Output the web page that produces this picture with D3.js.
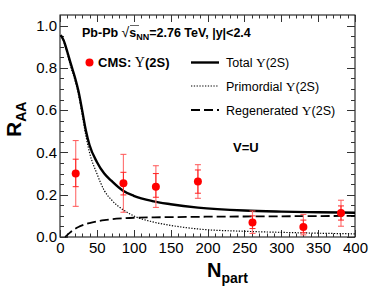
<!DOCTYPE html>
<html><head><meta charset="utf-8">
<script src="https://cdn.jsdelivr.net/npm/d3@7"></script>
<style>body{margin:0;background:#fff}svg{display:block}text{font-family:"Liberation Sans",Arial,sans-serif}</style>
</head><body><svg id="c" width="374" height="296"></svg>
<script>
// Data
const npartCurve = [1, 5, 10, 15, 20, 25, 30, 35, 40, 50, 60, 70, 85, 100, 125, 150, 187, 250, 300, 350, 400];
const totalR     = [0.955, 0.93, 0.875, 0.815, 0.758, 0.69, 0.60, 0.505, 0.435, 0.355, 0.30, 0.265, 0.22, 0.195, 0.17, 0.155, 0.139, 0.125, 0.12, 0.117, 0.115];
const primR      = [0.955, 0.925, 0.865, 0.80, 0.745, 0.675, 0.58, 0.48, 0.40, 0.30, 0.22, 0.175, 0.13, 0.10, 0.072, 0.055, 0.038, 0.027, 0.022, 0.018, 0.015];
const npartRegen = [7, 10, 15, 20, 25, 30, 40, 50, 60, 70, 85, 100, 125, 150, 200, 250, 300, 350, 400];
const regenR     = [0, 0.01, 0.025, 0.037, 0.047, 0.055, 0.066, 0.074, 0.08, 0.084, 0.088, 0.091, 0.093, 0.094, 0.096, 0.097, 0.098, 0.099, 0.100];

const cmsNpart  = [21.3, 86, 130, 187, 261, 330, 381];
const cmsRaa    = [0.30, 0.254, 0.238, 0.262, 0.069, 0.047, 0.114];
const cmsStatLo = [0.238, 0.199, 0.188, 0.207, 0.040, 0.020, 0.080];
const cmsStatHi = [0.368, 0.306, 0.300, 0.317, 0.100, 0.080, 0.147];
const cmsSysLo  = [0.145, 0.117, 0.140, 0.183, 0.017, 0.010, 0.051];
const cmsSysHi  = [0.456, 0.391, 0.337, 0.342, 0.123, 0.107, 0.174];

const xTicks = [0, 50, 100, 150, 200, 250, 300, 350, 400];
const yTicks = [0.0, 0.2, 0.4, 0.6, 0.8, 1.0];

const svg = d3.select("#c");
const L = 60, R = 355, T = 15, B = 237;
const x = d3.scaleLinear().domain([0, 400]).range([L, R]);
const y = d3.scaleLinear().domain([0, 1.05]).range([B, T]);

// frame
svg.append("rect").attr("x", L).attr("y", T).attr("width", R - L).attr("height", B - T)
  .attr("fill", "none").attr("stroke", "#000").attr("stroke-width", 1);

// ticks (inward) on all four sides
const tg = svg.append("g").attr("stroke", "#333").attr("stroke-width", 1);
d3.range(0, 401, 10).forEach(v => {
  const len = v % 50 === 0 ? 7 : 3.5;
  const px = Math.round(x(v)) + 0.5;
  tg.append("line").attr("x1", px).attr("x2", px).attr("y1", B).attr("y2", B - len);
  tg.append("line").attr("x1", px).attr("x2", px).attr("y1", T).attr("y2", T + len);
});
d3.range(0, 21).forEach(i => {
  const v = i * 0.05;
  const len = i % 4 === 0 ? 8 : 4;
  const py = Math.round(y(v)) + 0.5;
  tg.append("line").attr("x1", L).attr("x2", L + len).attr("y1", py).attr("y2", py);
  tg.append("line").attr("x1", R).attr("x2", R - len).attr("y1", py).attr("y2", py);
});

// axes labels via d3 axes (ticks hidden)
const xAx = svg.append("g").attr("transform", `translate(0,${B})`)
  .call(d3.axisBottom(x).tickValues(xTicks).tickSize(0).tickPadding(5).tickFormat(d3.format("d")));
xAx.select(".domain").remove();
xAx.selectAll("text").attr("font-size", 15).attr("fill", "#000").attr("font-family", "Liberation Sans, Arial");
const yAx = svg.append("g").attr("transform", `translate(${L},0)`)
  .call(d3.axisLeft(y).tickValues(yTicks).tickSize(0).tickPadding(3).tickFormat(d3.format(".1f")));
yAx.select(".domain").remove();
yAx.selectAll("text").attr("font-size", 15).attr("fill", "#000").attr("font-family", "Liberation Sans, Arial");

// curves
const line = d3.line().curve(d3.curveMonotoneX);
const totPts = npartCurve.map((n, i) => [x(n), y(totalR[i])]);
const primPts = npartCurve.map((n, i) => [x(n), y(primR[i])]);
const regPts = npartRegen.map((n, i) => [x(n), y(regenR[i])]);
svg.append("path").attr("d", line(primPts)).attr("fill", "none").attr("stroke", "#000")
  .attr("stroke-width", 1.2).attr("stroke-dasharray", "1.3,1.5");
svg.append("path").attr("d", line(regPts)).attr("fill", "none").attr("stroke", "#000")
  .attr("stroke-width", 1.8).attr("stroke-dasharray", "9,4");
svg.append("path").attr("d", line(totPts)).attr("fill", "none").attr("stroke", "#000")
  .attr("stroke-width", 2.4);

// CMS data
const eg = svg.append("g");
cmsNpart.forEach((n, i) => {
  const px = x(n);
  const cw = 3;
  const clip = v => Math.max(v, 0);
  eg.append("line").attr("x1", px).attr("x2", px).attr("y1", y(cmsSysHi[i])).attr("y2", y(clip(cmsSysLo[i])))
    .attr("stroke", "#f77").attr("stroke-width", 1.2);
  [cmsSysHi[i], cmsSysLo[i]].forEach(v => eg.append("line").attr("x1", px - cw).attr("x2", px + cw)
    .attr("y1", y(v)).attr("y2", y(v)).attr("stroke", "#f55").attr("stroke-width", 1));
  eg.append("line").attr("x1", px).attr("x2", px).attr("y1", y(cmsStatHi[i])).attr("y2", y(cmsStatLo[i]))
    .attr("stroke", "#f22").attr("stroke-width", 1);
  [cmsStatHi[i], cmsStatLo[i]].forEach(v => eg.append("line").attr("x1", px - cw).attr("x2", px + cw)
    .attr("y1", y(v)).attr("y2", y(v)).attr("stroke", "#f22").attr("stroke-width", 1));
  eg.append("circle").attr("cx", px).attr("cy", y(cmsRaa[i])).attr("r", 4).attr("fill", "#f00");
});

// title
const t = svg.append("text").attr("x", 82).attr("y", 37).attr("font-size", 12.5).attr("font-weight", "bold");
t.append("tspan").text("Pb-Pb  ");
t.append("tspan").attr("font-weight", "normal").attr("font-size", 14).text("\u221A");
t.append("tspan").text("s");
t.append("tspan").attr("font-size", 9).attr("dy", 3).text("NN");
t.append("tspan").attr("dy", -3).text("=2.76 TeV, |y|<2.4");
svg.append("line").attr("x1", 130).attr("x2", 139).attr("y1", 25.5).attr("y2", 25.5).attr("stroke", "#000").attr("stroke-width", 0.6);

// legend
svg.append("circle").attr("cx", 89.5).attr("cy", 62.5).attr("r", 4).attr("fill", "#f00");
const lt = svg.append("text").attr("x", 98).attr("y", 67).attr("font-size", 13).attr("font-weight", "bold");
lt.append("tspan").text("CMS: ");
lt.append("tspan").attr("font-family", "Liberation Serif, Times New Roman, serif").attr("font-weight", "normal").attr("font-size", 14).text("\u03A5");
lt.append("tspan").text("(2S)");

const legItems = [
  {label: "Total ", w: 2.4, dash: null, yy: 62.5},
  {label: "Primordial ", w: 1.2, dash: "1.3,1.5", yy: 86},
  {label: "Regenerated ", w: 1.8, dash: "9,4", yy: 110}
];
legItems.forEach(d => {
  const ln = svg.append("line").attr("x1", 191).attr("x2", 219).attr("y1", d.yy).attr("y2", d.yy)
    .attr("stroke", "#000").attr("stroke-width", d.w);
  if (d.dash) ln.attr("stroke-dasharray", d.dash);
  const tx = svg.append("text").attr("x", 226).attr("y", d.yy + 4.5).attr("font-size", 12.5);
  tx.append("tspan").text(d.label);
  tx.append("tspan").attr("font-family", "Liberation Serif, Times New Roman, serif").attr("font-size", 13.5).text("\u03A5");
  tx.append("tspan").text("(2S)");
});

svg.append("text").attr("x", 233).attr("y", 152).attr("font-size", 13).attr("font-weight", "bold").text("V=U");

// axis titles
const xt = svg.append("text").attr("x", 207).attr("y", 277).attr("font-size", 20).attr("font-weight", "bold");
xt.append("tspan").text("N");
xt.append("tspan").attr("font-size", 14).attr("dy", 6).text("part");

const ytx = svg.append("text").attr("transform", "translate(21,137) rotate(-90)").attr("font-size", 21).attr("font-weight", "bold");
ytx.append("tspan").text("R");
ytx.append("tspan").attr("font-size", 14).attr("dy", 5).text("AA");
</script></body></html>
